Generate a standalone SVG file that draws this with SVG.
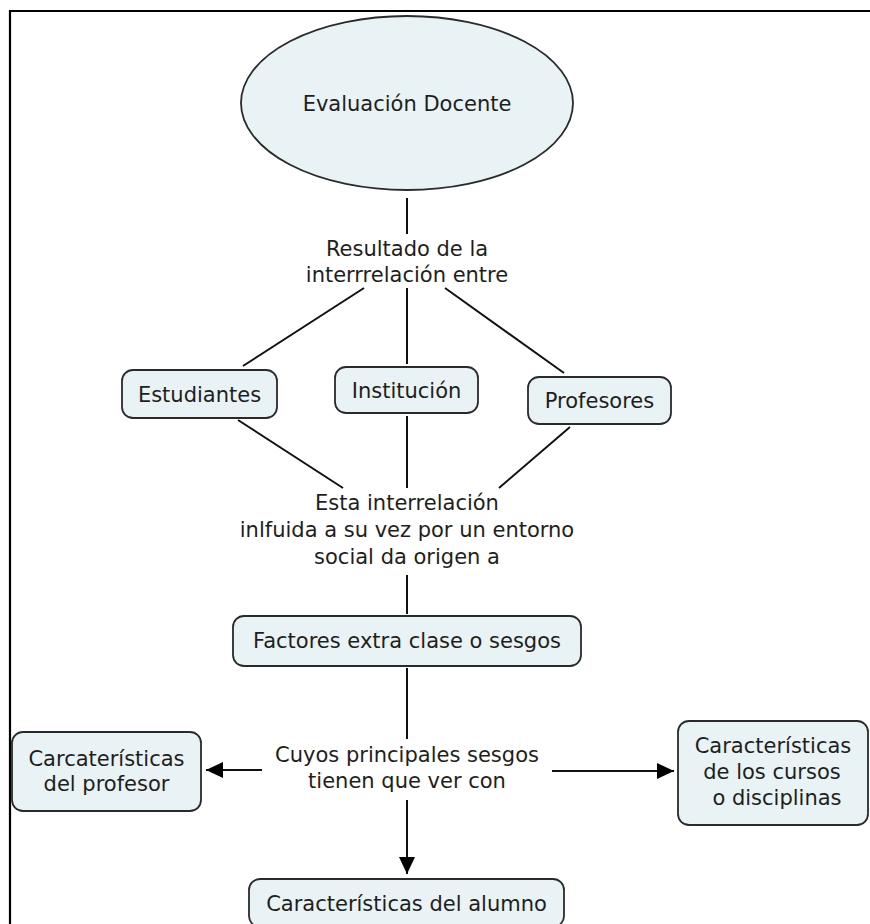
<svg xmlns="http://www.w3.org/2000/svg" width="870" height="924" viewBox="0 0 870 924">
<style>
text{font-family:"DejaVu Sans","Verdana",sans-serif;font-size:21px;fill:#1e1e1e;text-anchor:middle}
.node{fill:#e9f2f4;stroke:#2a2a2a;stroke-width:1.8}
.conn line{stroke:#111;stroke-width:2;fill:none}
</style>
<defs>
<marker id="arr" markerUnits="userSpaceOnUse" markerWidth="18" markerHeight="18" refX="17" refY="8" orient="auto">
<path d="M0,0 L17,8 L0,16 Z" fill="#000"/>
</marker>
</defs>
<rect width="870" height="924" fill="#fff"/>
<g id="frame" stroke="#000" stroke-width="2.2" fill="none">
<line x1="9" y1="11" x2="870" y2="11"/>
<line x1="10" y1="10" x2="10" y2="924"/>
</g>
<g class="conn" id="connectors">
<line x1="407" y1="198" x2="407" y2="234"/>
<line x1="364" y1="288" x2="243" y2="366"/>
<line x1="407" y1="288" x2="407" y2="364"/>
<line x1="445" y1="288" x2="564" y2="373"/>
<line x1="238" y1="420" x2="343" y2="488"/>
<line x1="407" y1="416" x2="407" y2="488"/>
<line x1="570" y1="427" x2="499" y2="488"/>
<line x1="407" y1="575" x2="407" y2="614"/>
<line x1="407" y1="668" x2="407" y2="739"/>
<line x1="262" y1="770" x2="206" y2="770" marker-end="url(#arr)"/>
<line x1="552" y1="771" x2="674" y2="771" marker-end="url(#arr)"/>
<line x1="407" y1="800" x2="407" y2="874" marker-end="url(#arr)"/>
</g>
<g id="evaluacion">
<ellipse class="node" cx="407" cy="103" rx="166" ry="87"/>
<text x="407" y="111">Evaluación Docente</text>
</g>
<g id="lbl-resultado">
<text x="407" y="256">Resultado de la</text>
<text x="407" y="282">interrrelación entre</text>
</g>
<g id="estudiantes">
<rect class="node" x="122" y="370" width="155" height="48" rx="11"/>
<text x="199.5" y="401.5">Estudiantes</text>
</g>
<g id="institucion">
<rect class="node" x="335" y="367" width="143" height="46" rx="11"/>
<text x="406.5" y="397.5">Institución</text>
</g>
<g id="profesores">
<rect class="node" x="528" y="377" width="143" height="47" rx="11"/>
<text x="599.5" y="408">Profesores</text>
</g>
<g id="lbl-esta">
<text x="407" y="510">Esta interrelación</text>
<text x="407" y="537">inlfuida a su vez por un entorno</text>
<text x="407" y="564">social da origen a</text>
</g>
<g id="factores">
<rect class="node" x="233" y="616" width="348" height="50" rx="11"/>
<text x="407" y="648">Factores extra clase o sesgos</text>
</g>
<g id="lbl-cuyos">
<text x="407" y="762">Cuyos principales sesgos</text>
<text x="407" y="788">tienen que ver con</text>
</g>
<g id="profesor-car">
<rect class="node" x="12" y="732" width="189" height="79" rx="11"/>
<text x="106.5" y="766">Carcaterísticas</text>
<text x="106.5" y="791">del profesor</text>
</g>
<g id="cursos">
<rect class="node" x="678" y="721" width="190" height="104" rx="11"/>
<text x="773" y="753">Características</text>
<text x="772" y="779">de los cursos</text>
<text x="777" y="805">o disciplinas</text>
</g>
<g id="alumno">
<rect class="node" x="249" y="879" width="315" height="48" rx="11"/>
<text x="406.5" y="911">Características del alumno</text>
</g>
</svg>
